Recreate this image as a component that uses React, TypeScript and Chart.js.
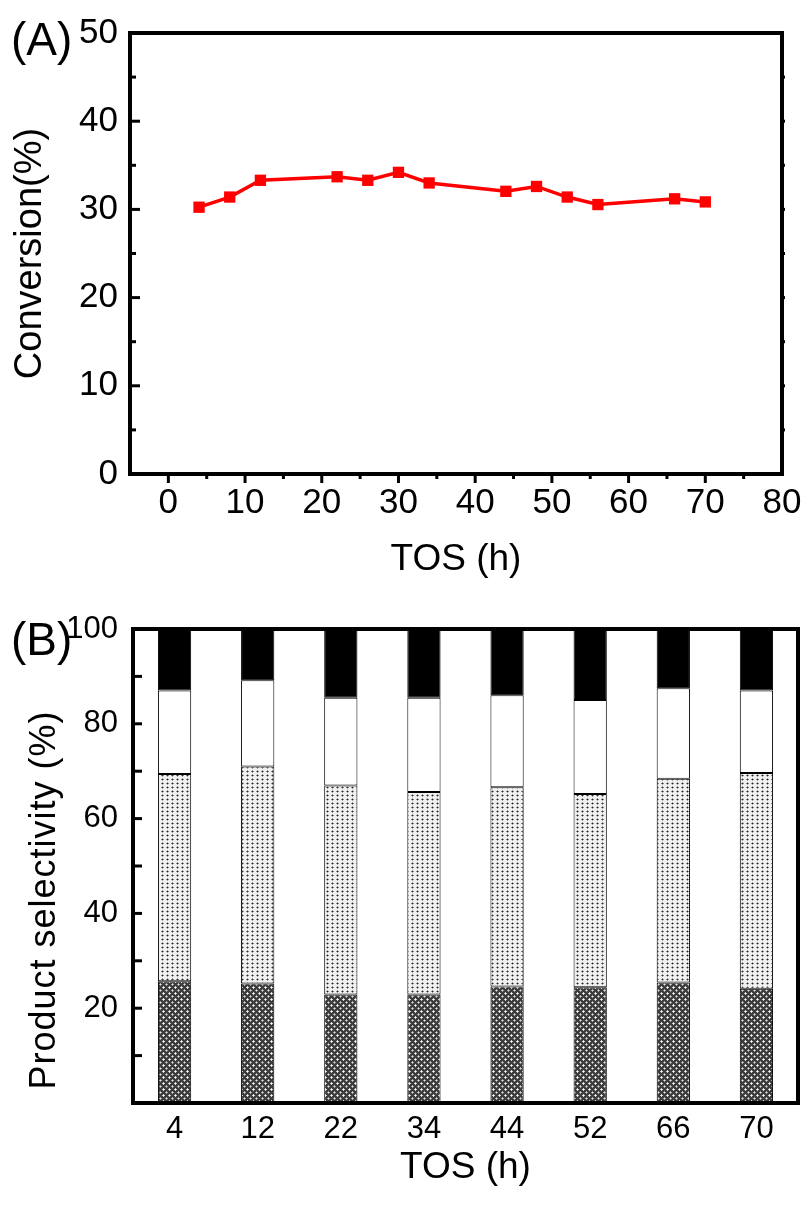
import React, { useEffect, useRef } from 'react';
import { Chart, registerables } from 'chart.js';

Chart.register(...registerables);

// ---- Panel A data ----
const tosHours = [4, 8, 12, 22, 26, 30, 34, 44, 48, 52, 56, 66, 70];
const conversion = [30.25, 31.4, 33.3, 33.7, 33.3, 34.2, 33.0, 32.05, 32.6, 31.4, 30.55, 31.2, 30.85];
const xTicksA = [0, 10, 20, 30, 40, 50, 60, 70, 80];
const yTicksA = [0, 10, 20, 30, 40, 50];

// ---- Panel B data ----
const barCategories = ['4', '12', '22', '34', '44', '52', '66', '70'];
const selCross = [25.7, 25.2, 22.9, 22.9, 24.6, 24.4, 25.4, 24.1];
const selDotted = [43.7, 45.8, 44.1, 42.7, 42.0, 40.8, 43.0, 45.5];
const selWhite = [17.6, 18.2, 18.5, 19.9, 19.4, 19.8, 19.1, 17.4];
const selBlack = [13.0, 10.8, 14.5, 14.5, 14.0, 15.0, 12.5, 13.0];
const yTicksB = [20, 40, 60, 80, 100];
const yTitleB = 'Product selectivity (%)';

const FONT = '"Liberation Sans", Arial, sans-serif';

function makeTile(w: number, h: number, bg: string, px: [number, number, string][]) {
  const c = document.createElement('canvas');
  c.width = w;
  c.height = h;
  const g = c.getContext('2d')!;
  g.fillStyle = bg;
  g.fillRect(0, 0, w, h);
  for (const [x, y, col] of px) {
    g.fillStyle = col;
    g.fillRect(x, y, 1, 1);
  }
  return c;
}

function line(ctx: CanvasRenderingContext2D, x1: number, y1: number, x2: number, y2: number) {
  ctx.beginPath();
  ctx.moveTo(x1, y1);
  ctx.lineTo(x2, y2);
  ctx.stroke();
}

const decorA = {
  id: 'decorA',
  afterDraw(chart: any) {
    const { ctx, chartArea } = chart;
    const { left, top, right, bottom } = chartArea;
    const xs = chart.scales.x;
    const ys = chart.scales.y;
    ctx.save();
    ctx.strokeStyle = '#000';
    ctx.lineWidth = 3;
    for (let v = 5; v < 50; v += 5) {
      const y = ys.getPixelForValue(v);
      const len = v % 10 === 0 ? 10 : 6;
      line(ctx, left, y, left + len, y);
      line(ctx, right, y, right + 3, y);
    }
    for (let v = 0; v < 80; v += 5) {
      const x = xs.getPixelForValue(v);
      const len = v % 10 === 0 ? 9 : 5;
      line(ctx, x, bottom, x, bottom + len);
      line(ctx, x, top, x, top + 2);
    }
    ctx.lineWidth = 4;
    ctx.strokeRect(left, top, right - left, bottom - top);
    ctx.fillStyle = '#000';
    ctx.font = `46px ${FONT}`;
    ctx.textAlign = 'left';
    ctx.textBaseline = 'alphabetic';
    ctx.fillText('(A)', 11, 55);
    ctx.restore();
  },
};

const decorB = {
  id: 'decorB',
  afterDraw(chart: any) {
    const { ctx, chartArea } = chart;
    const { left, top, right, bottom } = chartArea;
    const ys = chart.scales.y;
    ctx.save();
    ctx.strokeStyle = '#000';
    ctx.lineWidth = 3;
    for (let v = 10; v < 100; v += 10) {
      const y = ys.getPixelForValue(v);
      line(ctx, left, y, left + 9, y);
    }
    ctx.lineWidth = 4;
    ctx.strokeRect(left, top, right - left, bottom - top);
    ctx.fillStyle = '#000';
    ctx.font = `46px ${FONT}`;
    ctx.textAlign = 'left';
    ctx.textBaseline = 'alphabetic';
    ctx.fillText('(B)', 11, 65);
    // y-axis title
    ctx.save();
    ctx.translate(45, (top + bottom) / 2 + 34);
    ctx.rotate(-Math.PI / 2);
    ctx.font = `36px ${FONT}`;
    (ctx as any).letterSpacing = '1px';
    ctx.textAlign = 'center';
    ctx.textBaseline = 'middle';
    ctx.fillText(yTitleB, 0, 0);
    ctx.restore();
    ctx.restore();
  },
};

export default function App() {
  const refA = useRef<HTMLCanvasElement>(null);
  const refB = useRef<HTMLCanvasElement>(null);

  useEffect(() => {
    Chart.defaults.font.family = FONT;
    Chart.defaults.color = '#000';

    const chartA = new Chart(refA.current!, {
      type: 'line',
      data: {
        datasets: [
          {
            data: tosHours.map((x, i) => ({ x, y: conversion[i] })),
            borderColor: '#ff0000',
            backgroundColor: '#ff0000',
            borderWidth: 3.5,
            pointStyle: 'rect',
            pointRadius: 8,
            pointBorderWidth: 0,
            pointBackgroundColor: '#ff0000',
            tension: 0,
          },
        ],
      },
      options: {
        animation: false,
        responsive: false,
        devicePixelRatio: 1,
        layout: { padding: { top: 31, right: 29, left: 0, bottom: 0 } },
        plugins: { legend: { display: false }, tooltip: { enabled: false } },
        scales: {
          x: {
            type: 'linear',
            min: -5,
            max: 80,
            afterBuildTicks: (s: any) => {
              s.ticks = xTicksA.map((v) => ({ value: v }));
            },
            afterFit: (s: any) => {
              s.height = 116;
            },
            grid: { display: false, drawTicks: false },
            border: { display: false },
            ticks: { font: { size: 35 }, color: '#000', padding: 8, maxRotation: 0, autoSkip: false },
            title: {
              display: true,
              text: 'TOS (h)',
              font: { size: 37 },
              color: '#000',
              padding: { top: 0, bottom: 8 },
            },
          },
          y: {
            type: 'linear',
            min: 0,
            max: 50,
            afterBuildTicks: (s: any) => {
              s.ticks = yTicksA.map((v) => ({ value: v }));
            },
            afterFit: (s: any) => {
              s.width = 130;
            },
            grid: { display: false, drawTicks: false },
            border: { display: false },
            ticks: { font: { size: 35 }, color: '#000', padding: 12 },
            title: {
              display: true,
              text: 'Conversion(%)',
              font: { size: 38 },
              color: '#000',
              padding: { top: 8, bottom: 0 },
            },
          },
        },
      },
      plugins: [decorA],
    } as any);

    const crossTile = makeTile(6, 6, '#3c3c3c', [
      [1, 1, '#ffffff'],
      [0, 1, '#d0d0d0'],
      [2, 1, '#d0d0d0'],
      [1, 0, '#d0d0d0'],
      [1, 2, '#d0d0d0'],
      [4, 4, '#e0e0e0'],
      [3, 4, '#a0a0a0'],
      [5, 4, '#a0a0a0'],
      [4, 3, '#a0a0a0'],
      [4, 5, '#a0a0a0'],
    ]);
    const dotTile = makeTile(5, 4, '#f0f0f0', [
      [2, 1, '#2a2a2a'],
      [1, 1, '#888888'],
      [3, 1, '#888888'],
      [2, 0, '#a0a0a0'],
      [2, 2, '#a0a0a0'],
    ]);
    const ctxB = refB.current!.getContext('2d')!;
    const crossPat = ctxB.createPattern(crossTile, 'repeat');
    const dotPat = ctxB.createPattern(dotTile, 'repeat');

    const barCommon = {
      borderColor: '#000',
      borderWidth: 1,
      borderSkipped: false,
      barPercentage: 0.4,
      categoryPercentage: 1,
    };

    const chartB = new Chart(refB.current!, {
      type: 'bar',
      data: {
        labels: barCategories,
        datasets: [
          { data: selCross, backgroundColor: crossPat, ...barCommon },
          { data: selDotted, backgroundColor: dotPat, ...barCommon },
          { data: selWhite, backgroundColor: '#ffffff', ...barCommon },
          { data: selBlack, backgroundColor: '#000000', ...barCommon },
        ],
      },
      options: {
        animation: false,
        responsive: false,
        devicePixelRatio: 1,
        layout: { padding: { top: 39, right: 13, left: 0, bottom: 0 } },
        plugins: { legend: { display: false }, tooltip: { enabled: false } },
        scales: {
          x: {
            type: 'category',
            stacked: true,
            offset: true,
            afterFit: (s: any) => {
              s.height = 103;
            },
            grid: { display: false, drawTicks: false },
            border: { display: false },
            ticks: { font: { size: 31 }, color: '#000', padding: 8, maxRotation: 0, autoSkip: false },
            title: {
              display: true,
              text: 'TOS (h)',
              font: { size: 37 },
              color: '#000',
              padding: { top: 0, bottom: 16 },
            },
          },
          y: {
            type: 'linear',
            stacked: true,
            min: 0,
            max: 100,
            afterBuildTicks: (s: any) => {
              s.ticks = yTicksB.map((v) => ({ value: v }));
            },
            afterFit: (s: any) => {
              s.width = 133;
            },
            grid: { display: false, drawTicks: false },
            border: { display: false },
            ticks: { font: { size: 31 }, color: '#000', padding: 15 },
            title: { display: false },
          },
        },
      },
      plugins: [decorB],
    } as any);

    return () => {
      chartA.destroy();
      chartB.destroy();
    };
  }, []);

  return (
    <div style={{ position: 'absolute', left: 0, top: 0, width: 811, height: 1206, background: '#fff' }}>
      <canvas ref={refA} width={811} height={590} style={{ display: 'block', width: 811, height: 590 }} />
      <canvas ref={refB} width={811} height={616} style={{ display: 'block', width: 811, height: 616 }} />
    </div>
  );
}
